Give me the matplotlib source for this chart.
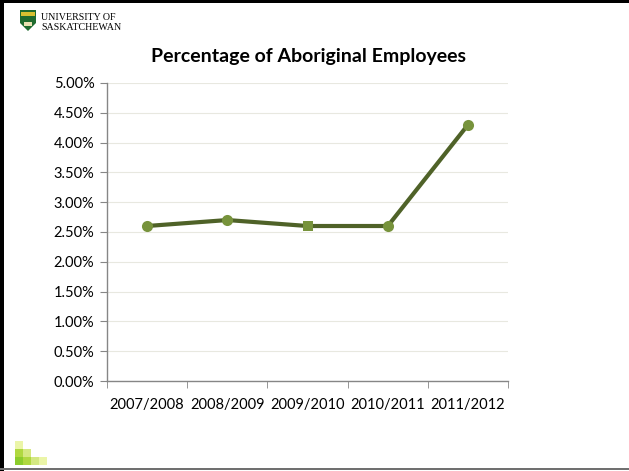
import matplotlib
matplotlib.use("Agg")
import matplotlib.pyplot as plt
from matplotlib.patches import Rectangle, Polygon
from matplotlib.ticker import FuncFormatter, MultipleLocator

categories = ["2007/2008", "2008/2009", "2009/2010", "2010/2011", "2011/2012"]
values = [2.60, 2.70, 2.60, 2.60, 4.30]
markers = ["o", "o", "s", "o", "o"]

plt.rcParams['font.family'] = ['Lato', 'DejaVu Sans']

fig = plt.figure(figsize=(6.29, 4.71), dpi=100)
ax = fig.add_axes([0.170, 0.191, 0.638, 0.633])

x = list(range(len(categories)))
ax.plot(x, values, color="#4f6228", lw=3, zorder=3)
for xi, v, m in zip(x, values, markers):
    ax.plot([xi], [v], marker=m, color="#77933c", markersize=8 if m == "o" else 7.5,
            markeredgewidth=0, zorder=4, linestyle="none")

ax.set_xlim(-0.5, len(categories) - 0.5)
ax.set_ylim(0, 5)
ax.yaxis.set_major_locator(MultipleLocator(0.5))
ax.yaxis.set_major_formatter(FuncFormatter(lambda v, p: f"{v:.2f}%"))
ax.set_xticks(x)
ax.set_xticklabels(categories)
ax.set_xticks([i + 0.5 for i in range(-1, len(categories))], minor=True)
ax.tick_params(axis="x", which="major", length=0, labelsize=10.5, pad=12)
ax.tick_params(axis="x", which="minor", length=5, color="#868686", direction="out")
ax.tick_params(axis="y", length=5, color="#868686", labelsize=10.5, pad=4)
ax.grid(axis="y", color="#e8e8e0", lw=0.8)
ax.set_axisbelow(True)
for s in ["top", "right"]:
    ax.spines[s].set_visible(False)
for s in ["left", "bottom"]:
    ax.spines[s].set_color("#868686")
    ax.spines[s].set_linewidth(1)

fig.text(0.491, 0.880, "Percentage of Aboriginal Employees", ha="center", va="center",
         fontsize=14, fontweight="bold")

# slide border
fig.add_artist(Rectangle((0, 0), 0.0065, 1, transform=fig.transFigure, color="black", lw=0))
fig.add_artist(Rectangle((0, 0.994), 1, 0.006, transform=fig.transFigure, color="black", lw=0))
fig.add_artist(Rectangle((0, 0.003), 1, 0.004, transform=fig.transFigure, color="#707070", lw=0))

# logo shield
W, H = 629, 471
def px(xp, yp):
    return (xp / W, 1 - yp / H)
shield = Polygon([px(20, 10), px(36, 10), px(36, 23), px(28, 31), px(20, 23)],
                 closed=True, transform=fig.transFigure, color="#1f6b2e", lw=0)
fig.add_artist(shield)
fig.add_artist(Rectangle(px(21, 16), 14 / W, 4 / H, transform=fig.transFigure, color="#d8c030", lw=0))
fig.add_artist(Rectangle(px(24, 26), 8 / W, 4 / H, transform=fig.transFigure, color="#e8e0b0", lw=0))
fig.text(41 / W, 1 - 17 / H, "UNIVERSITY OF", fontsize=7.2, family=["Liberation Serif"], va="center")
fig.text(41 / W, 1 - 27 / H, "SASKATCHEWAN", fontsize=7.2, family=["Liberation Serif"], va="center")

# bottom-left squares
sq = [(15, 441, "#ebf5a8"), (15, 449, "#b0d840"), (23, 449, "#d4e882"),
      (15, 457, "#8ccc2c"), (23, 457, "#b0d840"), (31, 457, "#d4e882"), (39, 457, "#ebf5a8")]
for xp, yp, c in sq:
    fig.add_artist(Rectangle(px(xp, yp + 8), 8 / W, 8 / H, transform=fig.transFigure, color=c, lw=0))

fig.savefig("out.png", dpi=100)
